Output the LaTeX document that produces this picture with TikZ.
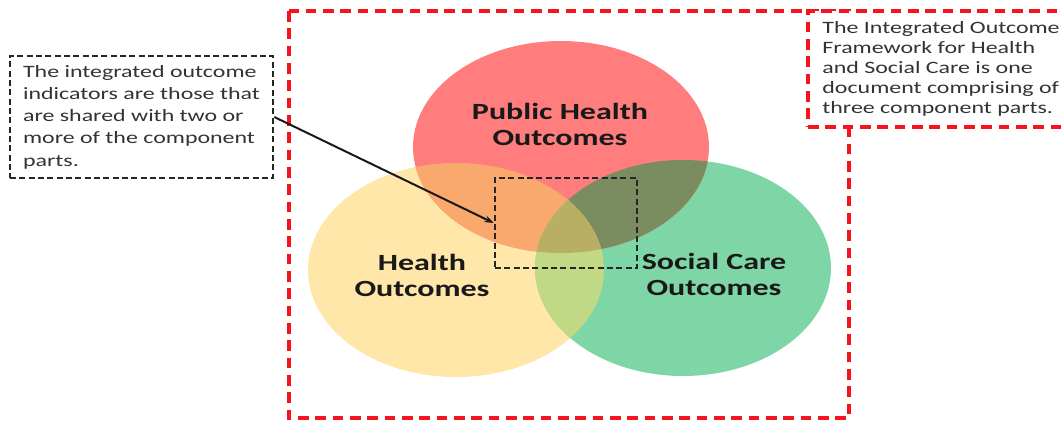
\documentclass[tikz,border=0pt]{standalone}
\usepackage{fontspec}
\setmainfont{Carlito}[FakeStretch=1.38]
\usetikzlibrary{arrows.meta}
\definecolor{cR}{HTML}{FF7D7D}
\definecolor{cY}{HTML}{FFE6A9}
\definecolor{cG}{HTML}{7ED6A6}
\definecolor{cRY}{HTML}{F9A96E}
\definecolor{cRG}{HTML}{7B8C60}
\definecolor{cYG}{HTML}{C1D985}
\definecolor{cRYG}{HTML}{B8AF63}
\definecolor{frameRed}{HTML}{F5141E}
\definecolor{noteText}{HTML}{333333}
\tikzset{
  ellR/.style={insert path={(561,147) ellipse [x radius=148, y radius=106]}},
  ellY/.style={insert path={(456,270) ellipse [x radius=148, y radius=107]}},
  ellG/.style={insert path={(683,268) ellipse [x radius=148, y radius=108]}},
  redframe/.style={draw=frameRed, line width=2.5pt, dash pattern=on 8pt off 5pt},
  blackdash/.style={draw=black!85, line width=1.9pt, dash pattern=on 4.5pt off 2.5pt},
  notetext/.style={text=noteText, align=left, inner sep=0pt, font=\fontsize{13}{16.7}\selectfont},
  setlabel/.style={text=black!90, align=center, font=\fontsize{17.4}{19.5}\selectfont\bfseries},
}
\begin{document}
\begin{tikzpicture}[x=0.75pt,y=-0.75pt]
\useasboundingbox (0,0) rectangle (1063,421);
% circles
\fill[cY, ellY];
\fill[cG, ellG];
\fill[cR, ellR];
\begin{scope}\clip[ellR]; \fill[cRY, ellY];\end{scope}
\begin{scope}\clip[ellR]; \fill[cRG, ellG];\end{scope}
\begin{scope}\clip[ellY]; \fill[cYG, ellG];\end{scope}
\begin{scope}\clip[ellR]; \clip[ellY]; \fill[cRYG, ellG];\end{scope}
% frame
\draw[redframe] (289,11) rectangle (849,418);
\node[redframe, fill=white, notetext, font=\fontsize{13}{15}\selectfont, minimum width=199.5pt, minimum height=87pt] (framework) at (941,69)
  {The Integrated Outcome\\Framework for Health\\and Social Care is one\\document comprising of\\three component parts.};
% labels
\node[setlabel] (public) at (560,124) {Public Health\\Outcomes};
\node[setlabel] (health) at (422,275) {Health\\Outcomes};
\node[setlabel] (social) at (714,274) {Social Care\\Outcomes};
% focus square
\node[blackdash, minimum width=106.5pt, minimum height=67.5pt, inner sep=0pt] (focus) at (566,223) {};
% note
\node[blackdash, fill=white, notetext, minimum width=197.25pt, minimum height=91.5pt] (note) at (141.5,117)
  {The integrated outcome\\indicators are those that\\are shared with two or\\more of the component\\parts.};
\draw[line width=1.5pt, black!90, -{Stealth[length=7pt,width=5pt]}] (note.east) -- (focus.west);
\end{tikzpicture}
\end{document}
